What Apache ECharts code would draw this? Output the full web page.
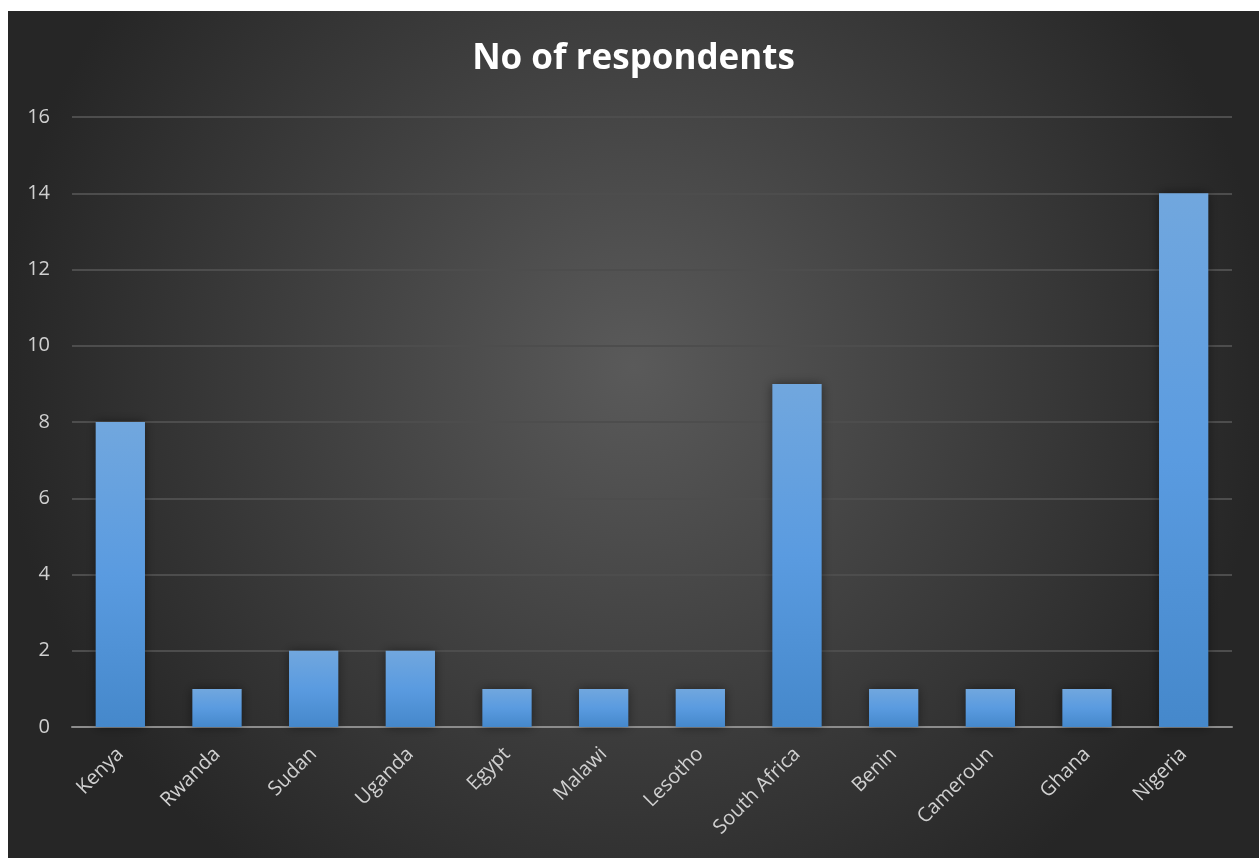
<!DOCTYPE html>
<html><head><meta charset="utf-8">
<script src="https://cdn.jsdelivr.net/npm/echarts@6/dist/echarts.min.js"></script>
<style>
html,body{margin:0;padding:0;background:#fff;width:1259px;height:858px;overflow:hidden;}
#c{position:absolute;left:8px;top:11px;width:1251px;height:847px;}
</style></head>
<body><div id="c"></div>
<script>
const categories = ["Kenya","Rwanda","Sudan","Uganda","Egypt","Malawi","Lesotho","South Africa","Benin","Cameroun","Ghana","Nigeria"];
const respondents = [8,1,2,2,1,1,1,9,1,1,1,14];
const titleText = "No of respondents";

const chart = echarts.init(document.getElementById('c'));
chart.setOption({
  animation:false,
  backgroundColor:{type:'radial',x:0.5,y:0.42,r:0.75,colorStops:[{offset:0,color:'#5a5a5a'},{offset:1,color:'#262626'}]},
  title:{text:titleText,left:'center',top:26,textStyle:{color:'#ffffff',fontSize:35,fontWeight:'bold',fontFamily:'Open Sans'}},
  grid:{left:64,right:27,top:106,bottom:131},
  xAxis:{type:'category',data:categories,
    axisLine:{lineStyle:{color:'#8c8c8c',width:2}},
    axisTick:{show:false},
    axisLabel:{rotate:45,color:'#d0d0d0',fontSize:20,fontFamily:'Open Sans',margin:24,interval:0}},
  yAxis:{type:'value',min:0,max:16,interval:2,
    axisLine:{show:false},axisTick:{show:false},
    axisLabel:{color:'#d0d0d0',fontSize:20,fontFamily:'Open Sans',margin:22},
    splitLine:{lineStyle:{color:'#4d4d4d',width:2}}},
  series:[{type:'bar',data:respondents,barWidth:'51%',
    itemStyle:{color:{type:'linear',x:0,y:0,x2:0,y2:1,colorStops:[{offset:0,color:'#71a7de'},{offset:0.5,color:'#5a9be0'},{offset:1,color:'#4588cb'}]},
      shadowColor:'rgba(0,0,0,0.45)',shadowBlur:10}}]
});
</script></body></html>
